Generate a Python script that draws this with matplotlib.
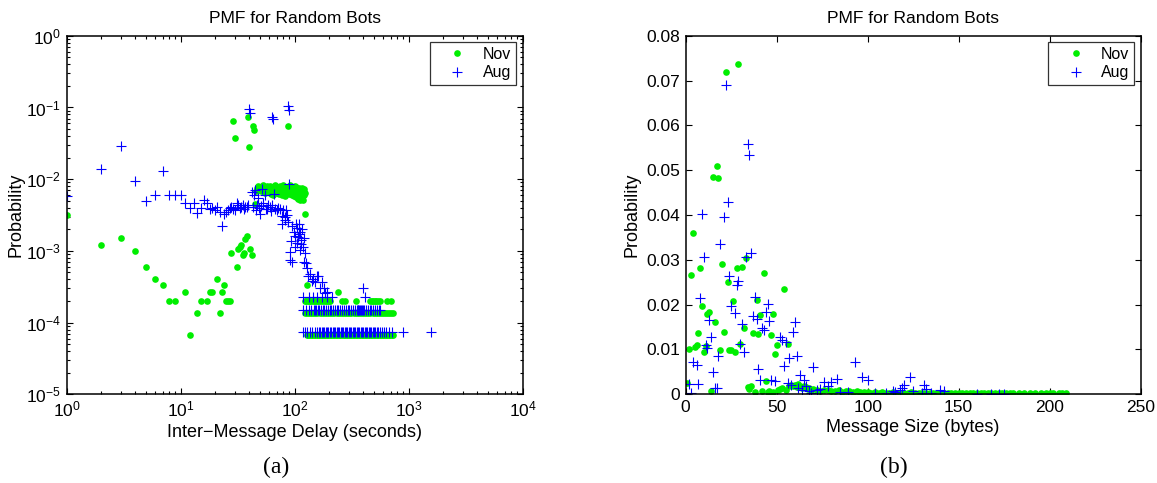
import matplotlib
matplotlib.use("Agg")
import matplotlib.pyplot as plt
import numpy as np

# ---------------- data: panel (a) Inter-message delay PMF ----------------
nov_delay_x = [1, 2, 3, 4, 5, 6, 7, 8, 9, 11, 12, 14, 15, 17, 18, 19, 21, 22, 23, 24, 25, 26, 27,
               28, 31, 32, 33, 34, 35, 36, 37, 38, 41, 42,
               29, 30, 39, 40, 43, 44, 87, 45, 124, 128]
nov_delay_y = [3.2e-3, 1.2e-3, 1.5e-3, 1.0e-3, 6.0e-4, 4.0e-4, 3.35e-4, 2.0e-4, 2.0e-4, 2.7e-4, 6.7e-5,
               1.34e-4, 2.0e-4, 2.0e-4, 2.7e-4, 2.7e-4, 4.0e-4, 1.34e-4, 2.7e-4, 3.35e-4, 2.0e-4, 2.0e-4, 2.0e-4,
               9.4e-4, 6.0e-4, 1.07e-3, 1.14e-3, 1.2e-3, 8.7e-4, 9.4e-4, 1.47e-3, 1.6e-3, 1.07e-3, 8.7e-4,
               0.064, 0.038, 0.073, 0.028, 0.055, 0.048, 0.056, 4.5e-3, 3.3e-3, 3.35e-4]

nov_band_x = [46, 47, 48, 49, 50, 51, 52, 53, 54, 55, 56, 57, 58, 59, 60, 61, 62, 63, 64, 65, 66, 67,
              68, 69, 70, 71, 72, 73, 74, 75, 76, 77, 78, 79, 80, 81, 82, 83, 84, 85, 86, 88, 89, 90,
              91, 92, 93, 94, 95, 96, 97, 98, 99, 100, 101, 102, 103, 104, 105, 106, 107, 108, 109,
              110, 111, 112, 113, 114, 115, 116, 117, 118, 119, 120, 121, 122, 123]
nov_band_y = [6.8e-3, 7.6e-3, 8.0e-3, 7.2e-3, 7.9e-3, 6.9e-3, 7.5e-3, 8.2e-3, 7.0e-3, 6.5e-3, 7.7e-3,
              8.1e-3, 7.3e-3, 6.6e-3, 7.4e-3, 8.0e-3, 6.3e-3, 7.1e-3, 7.8e-3, 6.1e-3, 7.6e-3, 8.2e-3,
              6.9e-3, 7.3e-3, 6.4e-3, 7.9e-3, 7.0e-3, 6.2e-3, 7.5e-3, 8.1e-3, 6.7e-3, 7.2e-3, 6.0e-3,
              7.7e-3, 8.3e-3, 6.8e-3, 7.4e-3, 5.9e-3, 7.1e-3, 7.8e-3, 6.5e-3, 7.9e-3, 7.0e-3, 6.3e-3,
              7.6e-3, 8.2e-3, 6.9e-3, 7.3e-3, 6.1e-3, 7.7e-3, 7.0e-3, 5.8e-3, 7.5e-3, 8.0e-3, 6.6e-3,
              7.2e-3, 5.6e-3, 7.8e-3, 6.9e-3, 7.4e-3, 5.3e-3, 7.1e-3, 6.4e-3, 7.6e-3, 5.1e-3, 6.8e-3,
              7.3e-3, 5.4e-3, 6.9e-3, 7.5e-3, 6.2e-3, 7.0e-3, 5.2e-3, 6.7e-3, 7.2e-3, 6.0e-3, 6.5e-3]

nov_lvl1_x = [128, 131, 135, 139, 143, 147, 151, 156, 160, 165, 170, 175, 180, 186, 192, 198, 204, 210,
              217, 224, 231, 238, 245, 253, 261, 269, 277, 286, 295, 304, 313, 323, 333, 343, 354, 365,
              376, 388, 400, 412, 425, 438, 452, 466, 480, 495, 510, 526, 542, 559, 576, 594, 612, 631,
              651, 671, 692, 713, 736]
nov_lvl1_y = 6.7e-5
nov_lvl2_x = [123, 128, 134, 140, 146, 152, 159, 166, 173, 181, 189, 197, 206, 215, 224, 234, 244, 255,
              266, 278, 290, 303, 316, 330, 344, 359, 375, 391, 408, 426, 445, 464, 484, 505, 527, 550,
              574, 599, 625, 652, 680, 709, 736]
nov_lvl2_y = 1.34e-4
nov_lvl3_x = [123, 126, 130, 134, 138, 142, 147, 152, 157, 162, 168, 174, 180, 187, 194, 200, 206,
              260, 278, 344, 460, 475, 490, 505, 520, 540, 563, 650, 700]
nov_lvl3_y = 2.0e-4
nov_lvl4_x = [242]
nov_lvl4_y = 2.7e-4

aug_delay_x = [1, 2, 3, 4, 5, 6, 7, 8, 9, 10, 11, 12, 13, 14, 15, 16, 17, 18, 19, 20, 21, 22, 23, 24,
               25, 26, 27, 28, 29, 30, 31, 32, 33, 34, 35, 36, 37, 38, 39, 40, 41, 42, 43, 44, 45, 46,
               47, 48, 49, 50, 51, 52, 53, 55, 56, 57, 59, 61, 62, 63, 64, 65, 66, 68, 70, 72, 75, 77,
               78, 80, 82, 83, 85, 86, 87, 88, 89, 90, 91, 92, 94, 95, 96, 98, 100, 101, 103, 105, 106,
               108, 109, 110, 111, 112, 114, 115, 117, 119, 120, 122, 124, 125, 128, 131, 137, 141, 146,
               151, 157, 162, 168, 173, 180, 185, 192, 401]
aug_delay_y = [5.9e-3, 0.0137, 0.029, 9.3e-3, 5.0e-3, 6.0e-3, 0.013, 6.0e-3, 6.0e-3, 6.0e-3, 4.6e-3,
               4.0e-3, 4.6e-3, 3.4e-3, 4.0e-3, 5.2e-3, 4.7e-3, 3.9e-3, 4.0e-3, 3.7e-3, 4.1e-3, 3.5e-3,
               2.2e-3, 3.3e-3, 3.5e-3, 3.7e-3, 4.0e-3, 4.1e-3, 3.9e-3, 3.7e-3, 4.6e-3, 4.3e-3, 4.0e-3,
               4.1e-3, 4.3e-3, 3.9e-3, 4.1e-3, 4.1e-3, 4.4e-3, 0.095, 0.083, 6.7e-3, 4.1e-3, 6.0e-3,
               7.0e-3, 3.7e-3, 4.4e-3, 5.5e-3, 4.0e-3, 3.3e-3, 4.2e-3, 7.4e-3, 4.6e-3, 6.0e-3, 3.8e-3,
               3.9e-3, 4.3e-3, 4.1e-3, 3.6e-3, 4.4e-3, 0.073, 0.068, 6.3e-3, 3.9e-3, 3.7e-3, 4.0e-3,
               3.9e-3, 3.1e-3, 2.4e-3, 3.7e-3, 2.7e-3, 3.0e-3, 3.7e-3, 3.2e-3, 2.5e-3, 0.105, 0.092,
               8.5e-3, 9.7e-4, 7.4e-4, 1.36e-3, 7.0e-4, 2.2e-3, 1.85e-3, 1.6e-3, 1.14e-3, 2.4e-3, 2.06e-3,
               1.3e-3, 1.57e-3, 2.4e-3, 1.7e-3, 1.03e-3, 1.85e-3, 1.25e-3, 1.43e-3, 2.0e-3, 1.14e-3,
               7.0e-4, 1.5e-3, 9.3e-4, 6.8e-4, 5.8e-4, 4.5e-4, 4.8e-4, 3.75e-4, 4.1e-4, 3.7e-4, 4.5e-4,
               4.4e-4, 3.0e-4, 3.7e-4, 3.0e-4, 2.6e-4, 2.7e-4, 3.0e-4]

aug_lvl1_x = [119, 124, 129, 137, 142, 150, 158, 163, 168, 173, 178, 183, 188, 193, 198, 204, 210, 216,
              222, 228, 234, 240, 247, 254, 261, 268, 275, 283, 291, 299, 307, 315, 324, 333, 342, 351,
              361, 371, 381, 391, 402, 413, 424, 436, 448, 460, 473, 486, 499, 513, 527, 545, 565, 585,
              610, 640, 675, 713, 900, 1566]
aug_lvl1_y = 7.5e-5
aug_lvl2_x = [119, 126, 133, 140, 147, 150, 155, 160, 165, 171, 177, 183, 189, 196, 203, 210, 218, 226,
              234, 243, 252, 261, 271, 281, 292, 303, 314, 326, 338, 351, 358, 364, 370, 378, 385, 392,
              400, 407, 422, 438, 455, 472, 490, 508, 527, 546, 563]
aug_lvl2_y = 1.5e-4
aug_lvl3_x = [119, 133, 146, 156, 173, 192, 212, 415]
aug_lvl3_y = 2.25e-4

# ---------------- data: panel (b) Message size PMF ----------------
nov_size_x = [2, 3, 4, 5, 6, 7, 8, 9, 10, 11, 12, 13, 15, 16, 17, 18, 19, 20, 21, 22, 23, 24, 25, 26,
              27, 28, 29, 30, 31, 32, 33, 37, 39, 40, 41, 43, 47, 48, 49, 50, 54, 56]
nov_size_y = [0.0102, 0.0267, 0.0359, 0.0106, 0.0110, 0.0136, 0.0282, 0.0197, 0.0095, 0.0108, 0.0180,
              0.0184, 0.0485, 0.0161, 0.0509, 0.0482, 0.0099, 0.0290, 0.0139, 0.0720, 0.0250, 0.0098,
              0.0098, 0.0209, 0.0095, 0.0281, 0.0736, 0.0112, 0.0284, 0.0147, 0.0305, 0.0136, 0.0210,
              0.0134, 0.0178, 0.0270, 0.0133, 0.0180, 0.0090, 0.0110, 0.0236, 0.0112]
nov_low_x = [1, 14, 34, 35, 36, 38, 42, 44, 45, 46, 48, 51, 52, 53, 55, 57, 58, 59, 60, 61, 62, 63,
             64, 65, 66, 67, 68, 69, 70, 72, 74, 76, 78, 80, 82, 84, 86, 88, 90, 92, 94, 96, 98, 100,
             102, 104, 106, 108, 110, 112, 114, 116, 118, 120, 122, 124, 126, 128, 130, 132, 134, 136,
             138, 140, 142, 144, 146, 148, 150, 152, 154, 156, 158, 160, 162, 164, 166, 168, 170, 172,
             174, 176, 178, 180, 183, 186, 189, 192, 195, 198, 200, 202, 205, 207, 209]
nov_low_y = [0.0025, 0.0007, 0.0016, 0.0012, 0.0018, 0.0005, 0.0007, 0.0029, 0.0006, 0.0008, 0.0006,
             0.0009, 0.0011, 0.0013, 0.0010, 0.0019, 0.0021, 0.0018, 0.0020, 0.0017, 0.0022, 0.0019,
             0.0015, 0.0018, 0.0016, 0.0012, 0.0014, 0.0010, 0.0011, 0.0009, 0.0008, 0.0010, 0.0009,
             0.0007, 0.0008, 0.0009, 0.0006, 0.0007, 0.0008, 0.0006, 0.0007, 0.0005, 0.0006, 0.0005,
             0.0004, 0.0005, 0.0004, 0.0005, 0.0004, 0.0003, 0.0005, 0.0004, 0.0003, 0.0004, 0.0003,
             0.0005, 0.0003, 0.0004, 0.0003, 0.0004, 0.0003, 0.0002, 0.0003, 0.0004, 0.0003, 0.0002,
             0.0003, 0.0002, 0.0003, 0.0002, 0.0003, 0.0002, 0.0002, 0.0003, 0.0002, 0.0002, 0.0003,
             0.0002, 0.0002, 0.0002, 0.0002, 0.0002, 0.0002, 0.0002, 0.0002, 0.0002, 0.0002, 0.0002,
             0.0002, 0.0002, 0.0002, 0.0002, 0.0002, 0.0002, 0.0002]

aug_size_x = [2, 3, 4, 6, 7, 8, 9, 10, 11, 12, 13, 14, 15, 16, 17, 18, 19, 21, 22, 23, 24, 25, 27, 28,
              29, 30, 31, 32, 33, 34, 35, 36, 37, 38, 39, 40, 41, 42, 43, 44, 45, 46, 47, 49, 52, 53,
              54, 55, 57, 59, 60, 61, 63, 65, 70, 76, 80, 83, 93, 97, 100, 123, 120, 119, 131, 132,
              114, 118, 125, 140, 142, 160, 168, 172, 175, 56, 58, 62, 64, 66, 68, 69, 72, 74, 78, 85,
              89, 104, 110, 115, 130, 135]
aug_size_y = [0.0024, 0.0002, 0.0072, 0.0065, 0.0024, 0.0214, 0.0403, 0.0307, 0.0109, 0.0104, 0.0165,
              0.0128, 0.0050, 0.0015, 0.0015, 0.0085, 0.0336, 0.0395, 0.0689, 0.0428, 0.0265, 0.0196,
              0.0182, 0.0243, 0.0252, 0.0113, 0.0158, 0.0094, 0.0307, 0.0559, 0.0533, 0.0316, 0.0174,
              0.0217, 0.0169, 0.0057, 0.0031, 0.0147, 0.0143, 0.0184, 0.0202, 0.0164, 0.0031, 0.0029,
              0.0128, 0.0122, 0.0063, 0.0117, 0.0080, 0.0139, 0.0161, 0.0085, 0.0042, 0.0033, 0.0061,
              0.0027, 0.0027, 0.0035, 0.0071, 0.0038, 0.0033, 0.0039, 0.0020, 0.0015, 0.0020, 0.0011,
              0.0007, 0.0009, 0.0008, 0.0009, 0.0007, 0.0001, 0.0001, 0.0001, 0.0001, 0.0025, 0.0020,
              0.0015, 0.0010, 0.0018, 0.0008, 0.0003, 0.0010, 0.0012, 0.0018, 0.0005, 0.0005, 0.0004,
              0.0003, 0.0005, 0.0003, 0.0003]

# ---------------- styling ----------------
plt.rcParams['font.family'] = ['Liberation Sans', 'DejaVu Sans']
plt.rcParams['mathtext.fontset'] = 'custom'
plt.rcParams['mathtext.rm'] = 'Liberation Sans'
plt.rcParams['mathtext.it'] = 'Liberation Sans'
plt.rcParams['mathtext.default'] = 'regular'

GREEN = '#00ee00'
BLUE = '#0000ff'
FS_TICK = 12.5
FS_LABEL = 13
FS_TITLE = 12.5
FS_LEG = 11.5

fig = plt.figure(figsize=(11.57, 4.83), dpi=100)
axL = fig.add_axes([0.0575, 0.1836, 0.3941, 0.7424])
axR = fig.add_axes([0.5926, 0.1836, 0.3933, 0.7424])

dot_kw = dict(linestyle='none', marker='o', markersize=4.8, markeredgewidth=0, color=GREEN)
plus_kw = dict(linestyle='none', marker='+', markersize=7.5, markeredgewidth=0.8, color=BLUE)

# panel (a)
nov_all_x = nov_delay_x + nov_band_x + nov_lvl1_x + nov_lvl2_x + nov_lvl3_x + nov_lvl4_x
nov_all_y = (nov_delay_y + nov_band_y + [nov_lvl1_y] * len(nov_lvl1_x) + [nov_lvl2_y] * len(nov_lvl2_x)
             + [nov_lvl3_y] * len(nov_lvl3_x) + [nov_lvl4_y] * len(nov_lvl4_x))
aug_all_x = aug_delay_x + aug_lvl1_x + aug_lvl2_x + aug_lvl3_x
aug_all_y = (aug_delay_y + [aug_lvl1_y] * len(aug_lvl1_x) + [aug_lvl2_y] * len(aug_lvl2_x)
             + [aug_lvl3_y] * len(aug_lvl3_x))

axL.plot(nov_all_x, nov_all_y, label='Nov', **dot_kw)
axL.plot(aug_all_x, aug_all_y, label='Aug', **plus_kw)
axL.set_xscale('log')
axL.set_yscale('log')
axL.set_xlim(1, 1e4)
axL.set_ylim(1e-5, 1)
axL.set_xticks([1, 10, 100, 1000, 10000])
axL.set_yticks([1e-5, 1e-4, 1e-3, 1e-2, 1e-1, 1])
axL.set_xlabel('Inter\u2212Message Delay (seconds)', fontsize=FS_LABEL, labelpad=3)
axL.set_ylabel('Probability', fontsize=FS_LABEL, labelpad=1)
axL.set_title('PMF for Random Bots', fontsize=FS_TITLE, pad=9)

# panel (b)
axR.plot(nov_size_x + nov_low_x, nov_size_y + nov_low_y, label='Nov', **dot_kw)
axR.plot(aug_size_x, aug_size_y, label='Aug', **plus_kw)
axR.set_xlim(0, 250)
axR.set_ylim(0, 0.08)
axR.set_xticks([0, 50, 100, 150, 200, 250])
axR.set_yticks([0, 0.01, 0.02, 0.03, 0.04, 0.05, 0.06, 0.07, 0.08])
axR.set_yticklabels(['0', '0.01', '0.02', '0.03', '0.04', '0.05', '0.06', '0.07', '0.08'])
axR.set_xlabel('Message Size (bytes)', fontsize=FS_LABEL, labelpad=3)
axR.set_ylabel('Probability', fontsize=FS_LABEL, labelpad=4)
axR.set_title('PMF for Random Bots', fontsize=FS_TITLE, pad=9)

for ax in (axL, axR):
    for s in ax.spines.values():
        s.set_linewidth(1.1)
        s.set_color('black')
    ax.tick_params(which='both', direction='in', top=True, right=True, labelsize=FS_TICK, width=0.8)
    ax.tick_params(which='major', length=4, pad=4)
    ax.tick_params(which='minor', length=2)
    leg = ax.legend(loc='upper right', fontsize=FS_LEG, frameon=True, fancybox=False,
                    borderaxespad=0.42, handlelength=2.9, handletextpad=0.15, borderpad=0.28,
                    labelspacing=0.2, markerscale=1.0)
    leg.get_frame().set_edgecolor('black')
    leg.get_frame().set_linewidth(0.9)
axR.minorticks_off()

fig.text(276 / 1157, 1 - 467 / 483, '(a)', ha='center', va='center', fontsize=17,
         family=['Liberation Serif', 'DejaVu Serif'])
fig.text(894 / 1157, 1 - 467 / 483, '(b)', ha='center', va='center', fontsize=17,
         family=['Liberation Serif', 'DejaVu Serif'])

fig.savefig('out.png', dpi=100)
